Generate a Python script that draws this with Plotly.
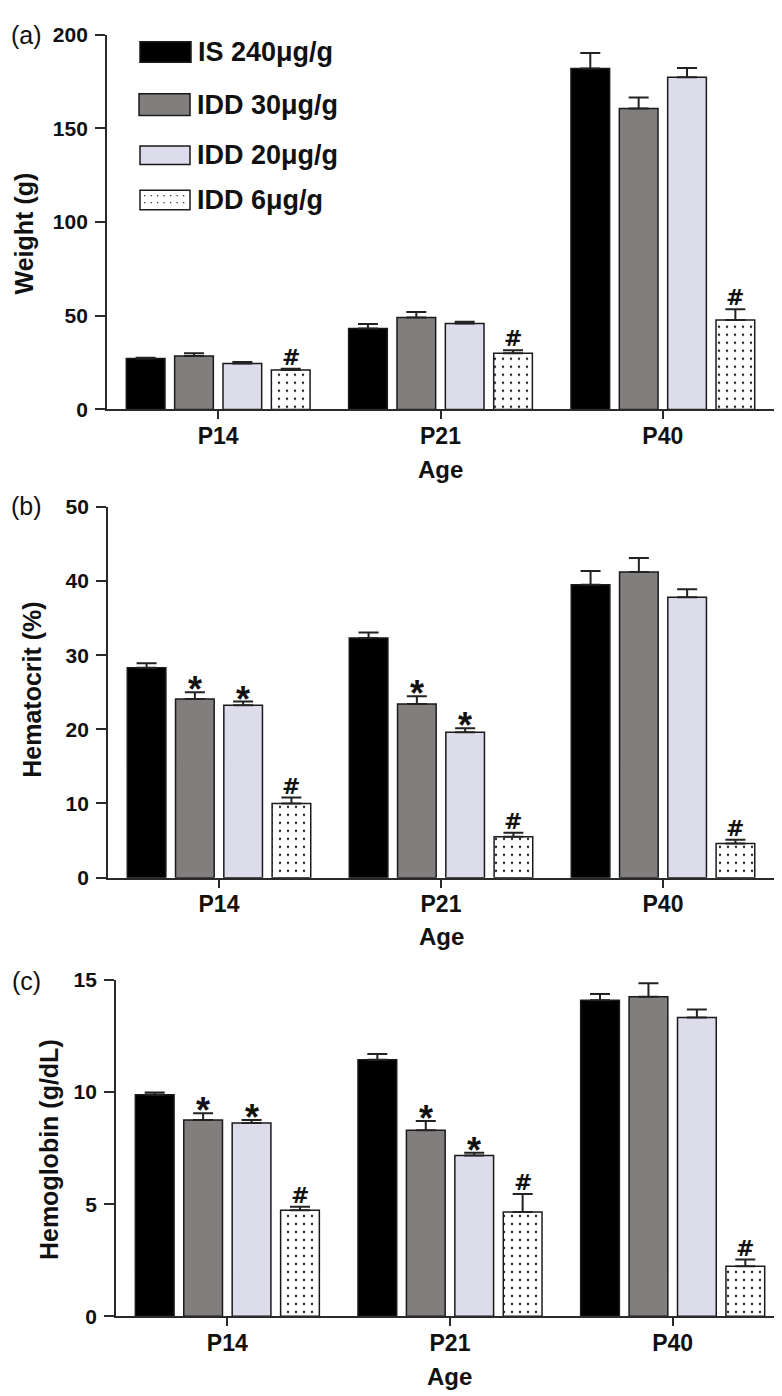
import plotly.graph_objects as go

# ---------------- data ----------------
ages = ["P14", "P21", "P40"]
series_names = ["IS 240\u03bcg/g", "IDD 30\u03bcg/g", "IDD 20\u03bcg/g", "IDD 6\u03bcg/g"]

weight_is240 = [27.2, 43.2, 182.0]
weight_idd30 = [28.6, 49.1, 160.6]
weight_idd20 = [24.6, 45.9, 177.3]
weight_idd6 = [21.1, 30.0, 47.7]
weight_err_is240 = [0.4, 2.4, 8.2]
weight_err_idd30 = [1.4, 2.9, 5.9]
weight_err_idd20 = [0.8, 0.9, 4.9]
weight_err_idd6 = [0.6, 1.6, 5.8]
weight_marks = [["", "", ""], ["", "", ""], ["", "", ""], ["#", "#", "#"]]

hct_is240 = [28.3, 32.3, 39.5]
hct_idd30 = [24.1, 23.4, 41.2]
hct_idd20 = [23.25, 19.6, 37.8]
hct_idd6 = [10.0, 5.5, 4.6]
hct_err_is240 = [0.6, 0.75, 1.85]
hct_err_idd30 = [0.9, 1.05, 1.9]
hct_err_idd20 = [0.5, 0.55, 1.1]
hct_err_idd6 = [0.8, 0.55, 0.5]
hct_marks = [["", "", ""], ["*", "*", ""], ["*", "*", ""], ["#", "#", "#"]]

hgb_is240 = [9.88, 11.44, 14.09]
hgb_idd30 = [8.75, 8.30, 14.25]
hgb_idd20 = [8.62, 7.17, 13.32]
hgb_idd6 = [4.73, 4.65, 2.23]
hgb_err_is240 = [0.1, 0.26, 0.28]
hgb_err_idd30 = [0.3, 0.41, 0.6]
hgb_err_idd20 = [0.13, 0.12, 0.36]
hgb_err_idd6 = [0.15, 0.8, 0.3]
hgb_marks = [["", "", ""], ["*", "*", ""], ["*", "*", ""], ["#", "#", "#"]]

y_ticks_weight = [0, 50, 100, 150, 200]
y_ticks_hct = [0, 10, 20, 30, 40, 50]
y_ticks_hgb = [0, 5, 10, 15]

# ---------------- style ----------------
W, H = 782, 1396
FONT = "Liberation Sans, Arial, Helvetica, sans-serif"
MARKFONT = "DejaVu Sans, Liberation Sans, sans-serif"
colors = ["#000000", "#837e7e", "#dcdcea", "#ffffff"]
BARGAP = 0.13
GROUPGAP = 0.2
AX = "#2a2a2a"


def px_x(x):
    return x / W


def px_y(y):
    return 1 - y / H


panels = [
    dict(vals=[weight_is240, weight_idd30, weight_idd20, weight_idd6],
         errs=[weight_err_is240, weight_err_idd30, weight_err_idd20, weight_err_idd6],
         marks=weight_marks, ticks=y_ticks_weight, yr=[0, 200],
         xd=[99, 766], yd=[396, 15], title="Weight (g)", tpos=(16, 217),
         label="(a)", lpos=(18, 15), age_y=457),
    dict(vals=[hct_is240, hct_idd30, hct_idd20, hct_idd6],
         errs=[hct_err_is240, hct_err_idd30, hct_err_idd20, hct_err_idd6],
         marks=hct_marks, ticks=y_ticks_hct, yr=[0, 50],
         xd=[100, 766], yd=[872, 495], title="Hematocrit (%)", tpos=(24, 681),
         label="(b)", lpos=(18, 494), age_y=932),
    dict(vals=[hgb_is240, hgb_idd30, hgb_idd20, hgb_idd6],
         errs=[hgb_err_is240, hgb_err_idd30, hgb_err_idd20, hgb_err_idd6],
         marks=hgb_marks, ticks=y_ticks_hgb, yr=[0, 15],
         xd=[108, 776], yd=[1318, 976], title="Hemoglobin (g/dL)", tpos=(41, 1149),
         label="(c)", lpos=(18, 977), age_y=1379),
]

fig = go.Figure()
annotations = []
shapes = []
xpos = list(range(len(ages)))
slot = (1 - BARGAP) / 4

for p_i, p in enumerate(panels):
    sfx = "" if p_i == 0 else str(p_i + 1)
    for k in range(4):
        marker = dict(color=colors[k], line=dict(color="#1a1a1a", width=1.5))
        if k == 3:
            marker["pattern"] = dict(shape=".", fgcolor="#222222", bgcolor="#ffffff",
                                     size=8, solidity=0.07, fillmode="replace")
        fig.add_trace(go.Bar(
            x=xpos, y=p["vals"][k], name=series_names[k], marker=marker,
            error_y=dict(type="data", array=p["errs"][k], arrayminus=[0] * 3,
                         symmetric=False, color="#222222", thickness=2, width=10),
            xaxis="x" + sfx, yaxis="y" + sfx, showlegend=False,
            offsetgroup=str(k),
        ))
        off = -(1 - BARGAP) / 2 + (k + 0.5) * slot
        for j in range(3):
            m = p["marks"][k][j]
            if m:
                annotations.append(dict(
                    x=xpos[j] + off, y=p["vals"][k][j] + p["errs"][k][j],
                    xref="x" + sfx, yref="y" + sfx, text=m,
                    showarrow=False, yanchor="bottom",
                    font=dict(family=FONT if m == "*" else MARKFONT,
                              size=36 if m == "*" else 22, color="#111",
                              weight="bold"),
                    yshift=-20 if m == "*" else -3,
                ))
    xa = dict(domain=[px_x(p["xd"][0]), px_x(p["xd"][1])], range=[-0.5, 2.5],
              tickvals=xpos, ticktext=ages, showline=True, linecolor=AX, linewidth=1.8,
              ticks="outside", ticklen=8, tickwidth=1.5, tickcolor=AX,
              tickfont=dict(family=FONT, size=23, color="#111", weight="bold"), showgrid=False,
              zeroline=False, anchor="y" + sfx, ticklabelstandoff=-3, fixedrange=True)
    ya = dict(domain=[px_y(p["yd"][0]), px_y(p["yd"][1])], range=p["yr"],
              tickvals=p["ticks"], showline=True, linecolor=AX, linewidth=1.8,
              ticks="outside", ticklen=10, tickwidth=1.5, tickcolor=AX,
              tickfont=dict(family=FONT, size=21, color="#111", weight="bold"), showgrid=False,
              zeroline=False, anchor="x" + sfx, ticklabelstandoff=3, fixedrange=True)
    fig.update_layout(**{"xaxis" + sfx: xa, "yaxis" + sfx: ya})
    # axis titles
    annotations.append(dict(x=px_x(p["tpos"][0]), y=px_y(p["tpos"][1]), xref="paper", yref="paper",
                            text=p["title"], textangle=-90, showarrow=False,
                            xanchor="center", yanchor="middle",
                            font=dict(family=FONT, size=25, color="#111", weight="bold")))
    annotations.append(dict(x=px_x((p["xd"][0] + p["xd"][1]) / 2), y=px_y(p["age_y"]),
                            xref="paper", yref="paper", text="Age", showarrow=False,
                            xanchor="center", yanchor="middle",
                            font=dict(family=FONT, size=24, color="#111", weight="bold")))
    annotations.append(dict(x=px_x(p["lpos"][0]), y=px_y(p["lpos"][1]), xref="paper", yref="paper",
                            text=p["label"], showarrow=False, xanchor="center", yanchor="middle",
                            font=dict(family=FONT, size=25, color="#111")))

# ---------------- custom legend (panel a) ----------------
leg_boxes = [(132, 22, 183, 43), (131, 75, 182, 97), (132, 128, 182, 147), (132, 173, 182, 193)]
for k, (x0, y0, x1, y1) in enumerate(leg_boxes):
    shapes.append(dict(type="rect", xref="paper", yref="paper",
                       x0=px_x(x0), x1=px_x(x1), y0=px_y(y1), y1=px_y(y0),
                       fillcolor=colors[k], line=dict(color="#1a1a1a", width=1.5)))
    if k == 3:
        path = ""
        yy = y0 + 5
        while yy < y1 - 2:
            xx = x0 + 4
            while xx < x1 - 2:
                path += "M%.5f,%.5f L%.5f,%.5f L%.5f,%.5f L%.5f,%.5f Z " % (
                    px_x(xx), px_y(yy), px_x(xx + 1.3), px_y(yy),
                    px_x(xx + 1.3), px_y(yy + 1.3), px_x(xx), px_y(yy + 1.3))
                xx += 6.5
            yy += 7
        shapes.append(dict(type="path", xref="paper", yref="paper", path=path,
                           fillcolor="#333333", line=dict(width=0)))
    annotations.append(dict(x=px_x(x1 + 5), y=px_y((y0 + y1) / 2), xref="paper", yref="paper",
                            text=series_names[k], showarrow=False,
                            xanchor="left", yanchor="middle",
                            font=dict(family=FONT, size=27, color="#111", weight="bold")))

fig.update_layout(
    width=W, height=H, margin=dict(l=0, r=0, t=0, b=0),
    barmode="group", bargap=BARGAP, bargroupgap=GROUPGAP,
    paper_bgcolor="white", plot_bgcolor="white",
    annotations=annotations, shapes=shapes, showlegend=False,
    font=dict(family=FONT),
)

fig.write_html("out.html")
